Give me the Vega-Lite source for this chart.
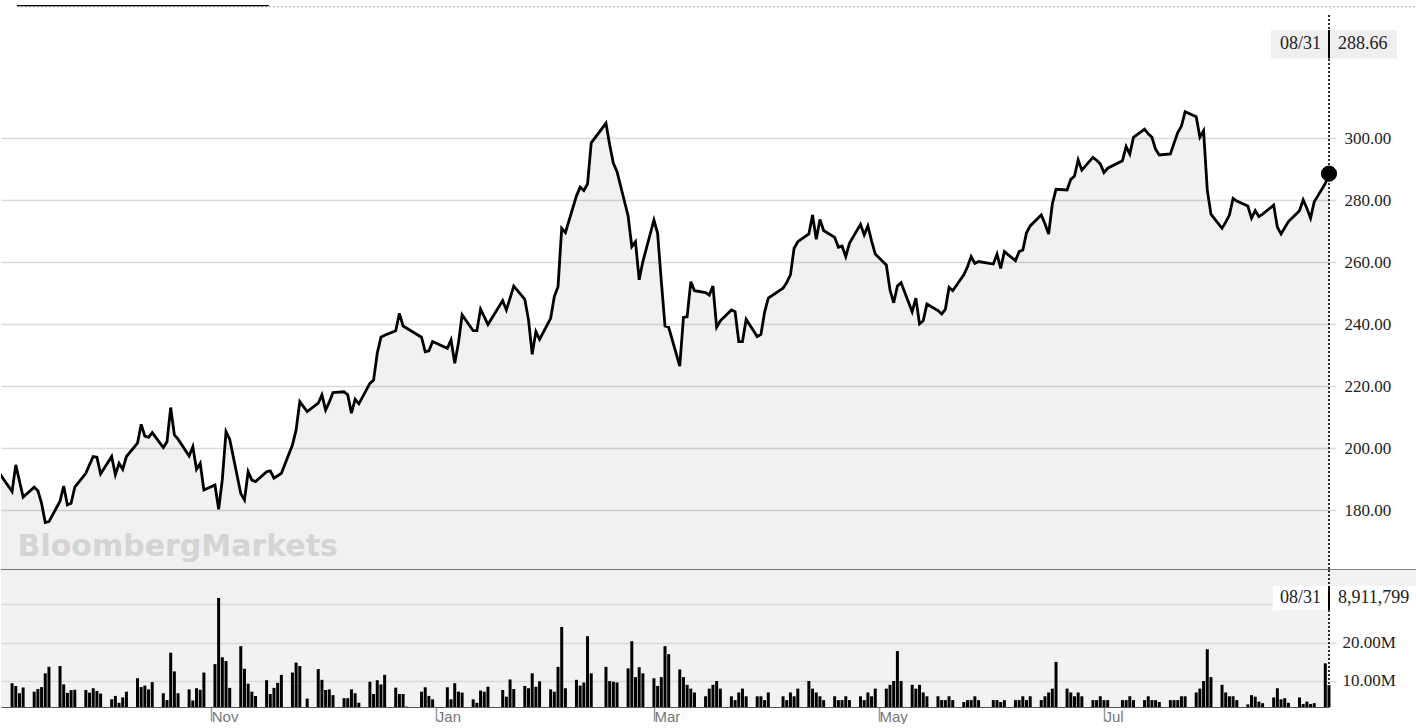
{
  "$schema": "https://vega.github.io/schema/vega-lite/v6.json",
  "padding": {"left": 0, "top": 5, "right": 0, "bottom": 0},
  "spacing": 0,
  "bounds": "flush",
  "background": "#ffffff",
  "config": {"view": {"stroke": null}},
  "datasets": {
    "px": [
      {"date":"2020-09-04","price":193.0},{"date":"2020-09-08","price":186.1},{"date":"2020-09-09","price":194.7},{"date":"2020-09-10","price":189.5},{"date":"2020-09-11","price":184.3},
      {"date":"2020-09-14","price":187.5},{"date":"2020-09-15","price":186.4},{"date":"2020-09-16","price":182.3},{"date":"2020-09-17","price":176.1},{"date":"2020-09-18","price":176.4},
      {"date":"2020-09-21","price":183.0},{"date":"2020-09-22","price":187.9},{"date":"2020-09-23","price":181.8},{"date":"2020-09-24","price":182.3},{"date":"2020-09-25","price":187.5},
      {"date":"2020-09-28","price":192.0},{"date":"2020-09-29","price":194.8},{"date":"2020-09-30","price":197.4},{"date":"2020-10-01","price":197.2},{"date":"2020-10-02","price":191.8},
      {"date":"2020-10-05","price":197.4},{"date":"2020-10-06","price":191.5},{"date":"2020-10-07","price":195.2},{"date":"2020-10-08","price":193.3},{"date":"2020-10-09","price":197.4},
      {"date":"2020-10-12","price":201.7},{"date":"2020-10-13","price":207.8},{"date":"2020-10-14","price":204.0},{"date":"2020-10-15","price":203.6},{"date":"2020-10-16","price":205.1},
      {"date":"2020-10-19","price":200.3},{"date":"2020-10-20","price":202.2},{"date":"2020-10-21","price":213.2},{"date":"2020-10-22","price":204.4},{"date":"2020-10-23","price":203.0},
      {"date":"2020-10-26","price":197.6},{"date":"2020-10-27","price":200.6},{"date":"2020-10-28","price":193.3},{"date":"2020-10-29","price":195.2},{"date":"2020-10-30","price":186.6},
      {"date":"2020-11-02","price":188.2},{"date":"2020-11-03","price":180.4},{"date":"2020-11-04","price":190.0},{"date":"2020-11-05","price":205.4},{"date":"2020-11-06","price":203.0},
      {"date":"2020-11-09","price":185.5},{"date":"2020-11-10","price":183.4},{"date":"2020-11-11","price":192.5},{"date":"2020-11-12","price":189.8},{"date":"2020-11-13","price":189.3},
      {"date":"2020-11-16","price":192.5},{"date":"2020-11-17","price":192.8},{"date":"2020-11-18","price":190.4},{"date":"2020-11-19","price":191.2},{"date":"2020-11-20","price":192.0},
      {"date":"2020-11-23","price":201.1},{"date":"2020-11-24","price":206.0},{"date":"2020-11-25","price":215.1},{"date":"2020-11-27","price":211.9},
      {"date":"2020-11-30","price":214.6},{"date":"2020-12-01","price":217.3},{"date":"2020-12-02","price":212.4},{"date":"2020-12-03","price":215.0},{"date":"2020-12-04","price":218.0},
      {"date":"2020-12-07","price":218.3},{"date":"2020-12-08","price":217.3},{"date":"2020-12-09","price":211.4},{"date":"2020-12-10","price":215.9},{"date":"2020-12-11","price":214.4},
      {"date":"2020-12-14","price":221.0},{"date":"2020-12-15","price":222.1},{"date":"2020-12-16","price":230.7},{"date":"2020-12-17","price":235.9},{"date":"2020-12-18","price":236.5},
      {"date":"2020-12-21","price":238.0},{"date":"2020-12-22","price":243.6},{"date":"2020-12-23","price":239.5},{"date":"2020-12-24","price":238.8},
      {"date":"2020-12-28","price":235.9},{"date":"2020-12-29","price":231.2},{"date":"2020-12-30","price":231.5},{"date":"2020-12-31","price":234.5},
      {"date":"2021-01-04","price":232.3},{"date":"2021-01-05","price":235.0},{"date":"2021-01-06","price":227.5},{"date":"2021-01-07","price":234.0},{"date":"2021-01-08","price":243.1},
      {"date":"2021-01-11","price":238.0},{"date":"2021-01-12","price":238.0},{"date":"2021-01-13","price":244.9},{"date":"2021-01-14","price":242.5},{"date":"2021-01-15","price":240.0},
      {"date":"2021-01-19","price":247.7},{"date":"2021-01-20","price":244.7},{"date":"2021-01-21","price":248.5},{"date":"2021-01-22","price":252.4},
      {"date":"2021-01-25","price":248.1},{"date":"2021-01-26","price":241.5},{"date":"2021-01-27","price":230.4},{"date":"2021-01-28","price":237.7},{"date":"2021-01-29","price":235.2},
      {"date":"2021-02-01","price":242.0},{"date":"2021-02-02","price":249.0},{"date":"2021-02-03","price":252.2},{"date":"2021-02-04","price":271.0},{"date":"2021-02-05","price":269.6},
      {"date":"2021-02-08","price":281.5},{"date":"2021-02-09","price":284.3},{"date":"2021-02-10","price":283.2},{"date":"2021-02-11","price":285.3},{"date":"2021-02-12","price":298.6},
      {"date":"2021-02-16","price":304.9},{"date":"2021-02-17","price":298.0},{"date":"2021-02-18","price":292.0},{"date":"2021-02-19","price":289.3},
      {"date":"2021-02-22","price":275.0},{"date":"2021-02-23","price":265.1},{"date":"2021-02-24","price":266.7},{"date":"2021-02-25","price":254.4},{"date":"2021-02-26","price":260.3},
      {"date":"2021-03-01","price":273.7},{"date":"2021-03-02","price":269.4},{"date":"2021-03-03","price":254.0},{"date":"2021-03-04","price":239.5},{"date":"2021-03-05","price":239.1},
      {"date":"2021-03-08","price":226.6},{"date":"2021-03-09","price":242.3},{"date":"2021-03-10","price":242.5},{"date":"2021-03-11","price":253.8},{"date":"2021-03-12","price":250.9},
      {"date":"2021-03-15","price":250.3},{"date":"2021-03-16","price":249.5},{"date":"2021-03-17","price":252.4},{"date":"2021-03-18","price":239.1},{"date":"2021-03-19","price":241.2},
      {"date":"2021-03-22","price":244.7},{"date":"2021-03-23","price":244.1},{"date":"2021-03-24","price":234.5},{"date":"2021-03-25","price":234.5},{"date":"2021-03-26","price":241.7},
      {"date":"2021-03-29","price":236.1},{"date":"2021-03-30","price":236.8},{"date":"2021-03-31","price":244.0},{"date":"2021-04-01","price":248.5},
      {"date":"2021-04-05","price":251.7},{"date":"2021-04-06","price":253.5},{"date":"2021-04-07","price":256.0},{"date":"2021-04-08","price":264.6},{"date":"2021-04-09","price":266.7},
      {"date":"2021-04-12","price":269.2},{"date":"2021-04-13","price":275.3},{"date":"2021-04-14","price":267.5},{"date":"2021-04-15","price":273.9},{"date":"2021-04-16","price":270.3},
      {"date":"2021-04-19","price":268.1},{"date":"2021-04-20","price":264.9},{"date":"2021-04-21","price":265.3},{"date":"2021-04-22","price":261.9},{"date":"2021-04-23","price":266.2},
      {"date":"2021-04-26","price":272.3},{"date":"2021-04-27","price":268.9},{"date":"2021-04-28","price":271.8},{"date":"2021-04-29","price":267.0},{"date":"2021-04-30","price":262.7},
      {"date":"2021-05-03","price":259.2},{"date":"2021-05-04","price":251.1},{"date":"2021-05-05","price":247.0},{"date":"2021-05-06","price":252.4},{"date":"2021-05-07","price":253.5},
      {"date":"2021-05-10","price":244.1},{"date":"2021-05-11","price":248.5},{"date":"2021-05-12","price":240.2},{"date":"2021-05-13","price":241.2},{"date":"2021-05-14","price":246.6},
      {"date":"2021-05-17","price":244.5},{"date":"2021-05-18","price":243.4},{"date":"2021-05-19","price":244.9},{"date":"2021-05-20","price":252.0},{"date":"2021-05-21","price":250.9},
      {"date":"2021-05-24","price":256.0},{"date":"2021-05-25","price":258.6},{"date":"2021-05-26","price":261.9},{"date":"2021-05-27","price":259.7},{"date":"2021-05-28","price":260.3},
      {"date":"2021-06-01","price":259.5},{"date":"2021-06-02","price":262.7},{"date":"2021-06-03","price":258.1},{"date":"2021-06-04","price":263.5},
      {"date":"2021-06-07","price":260.6},{"date":"2021-06-08","price":263.5},{"date":"2021-06-09","price":264.0},{"date":"2021-06-10","price":269.6},{"date":"2021-06-11","price":271.8},
      {"date":"2021-06-14","price":275.3},{"date":"2021-06-15","price":272.5},{"date":"2021-06-16","price":269.2},{"date":"2021-06-17","price":278.9},{"date":"2021-06-18","price":283.6},
      {"date":"2021-06-21","price":283.4},{"date":"2021-06-22","price":286.8},{"date":"2021-06-23","price":287.9},{"date":"2021-06-24","price":293.1},{"date":"2021-06-25","price":289.8},
      {"date":"2021-06-28","price":293.9},{"date":"2021-06-29","price":293.0},{"date":"2021-06-30","price":291.8},{"date":"2021-07-01","price":289.0},{"date":"2021-07-02","price":290.4},
      {"date":"2021-07-06","price":292.8},{"date":"2021-07-07","price":297.4},{"date":"2021-07-08","price":295.0},{"date":"2021-07-09","price":300.4},
      {"date":"2021-07-12","price":303.0},{"date":"2021-07-13","price":301.5},{"date":"2021-07-14","price":300.4},{"date":"2021-07-15","price":296.5},{"date":"2021-07-16","price":294.7},
      {"date":"2021-07-19","price":295.0},{"date":"2021-07-20","price":298.5},{"date":"2021-07-21","price":301.9},{"date":"2021-07-22","price":304.0},{"date":"2021-07-23","price":308.6},
      {"date":"2021-07-26","price":307.0},{"date":"2021-07-27","price":300.4},{"date":"2021-07-28","price":302.5},{"date":"2021-07-29","price":283.4},{"date":"2021-07-30","price":275.6},
      {"date":"2021-08-02","price":271.0},{"date":"2021-08-03","price":273.0},{"date":"2021-08-04","price":275.3},{"date":"2021-08-05","price":280.7},{"date":"2021-08-06","price":279.8},
      {"date":"2021-08-09","price":278.2},{"date":"2021-08-10","price":274.3},{"date":"2021-08-11","price":276.7},{"date":"2021-08-12","price":274.8},{"date":"2021-08-13","price":275.6},
      {"date":"2021-08-16","price":278.5},{"date":"2021-08-17","price":271.4},{"date":"2021-08-18","price":269.2},{"date":"2021-08-19","price":271.2},{"date":"2021-08-20","price":273.2},
      {"date":"2021-08-23","price":276.7},{"date":"2021-08-24","price":280.2},{"date":"2021-08-25","price":277.5},{"date":"2021-08-26","price":274.3},{"date":"2021-08-27","price":279.6},
      {"date":"2021-08-30","price":285.5},{"date":"2021-08-31","price":288.66}
    ],
    "vol": [
      {"date":"2020-09-08","v":9.4},{"date":"2020-09-09","v":8.7},{"date":"2020-09-10","v":6.8},{"date":"2020-09-11","v":8.3},
      {"date":"2020-09-14","v":7.2},{"date":"2020-09-15","v":7.9},{"date":"2020-09-16","v":8.4},{"date":"2020-09-17","v":12.0},{"date":"2020-09-18","v":13.7},
      {"date":"2020-09-21","v":13.9},{"date":"2020-09-22","v":9.1},{"date":"2020-09-23","v":6.9},{"date":"2020-09-24","v":7.6},{"date":"2020-09-25","v":7.7},
      {"date":"2020-09-28","v":7.65},{"date":"2020-09-29","v":6.95},{"date":"2020-09-30","v":8.1},{"date":"2020-10-01","v":7.4},{"date":"2020-10-02","v":6.7},
      {"date":"2020-10-05","v":5.2},{"date":"2020-10-06","v":6.1},{"date":"2020-10-07","v":4.3},{"date":"2020-10-08","v":5.7},{"date":"2020-10-09","v":7.2},
      {"date":"2020-10-12","v":10.7},{"date":"2020-10-13","v":8.4},{"date":"2020-10-14","v":8.8},{"date":"2020-10-15","v":7.8},{"date":"2020-10-16","v":9.7},
      {"date":"2020-10-19","v":6.8},{"date":"2020-10-20","v":5.0},{"date":"2020-10-21","v":17.4},{"date":"2020-10-22","v":12.5},{"date":"2020-10-23","v":6.8},
      {"date":"2020-10-26","v":7.8},{"date":"2020-10-27","v":4.9},{"date":"2020-10-28","v":8.1},{"date":"2020-10-29","v":7.7},{"date":"2020-10-30","v":12.2},
      {"date":"2020-11-02","v":14.4},{"date":"2020-11-03","v":31.7},{"date":"2020-11-04","v":16.2},{"date":"2020-11-05","v":15.2},{"date":"2020-11-06","v":8.2},
      {"date":"2020-11-09","v":19.1},{"date":"2020-11-10","v":13.2},{"date":"2020-11-11","v":9.3},{"date":"2020-11-12","v":7.2},{"date":"2020-11-13","v":6.1},
      {"date":"2020-11-16","v":10.2},{"date":"2020-11-17","v":6.6},{"date":"2020-11-18","v":8.2},{"date":"2020-11-19","v":9.5},{"date":"2020-11-20","v":11.6},
      {"date":"2020-11-23","v":12.2},{"date":"2020-11-24","v":14.8},{"date":"2020-11-25","v":13.9},{"date":"2020-11-27","v":5.4},
      {"date":"2020-11-30","v":13.1},{"date":"2020-12-01","v":10.3},{"date":"2020-12-02","v":7.65},{"date":"2020-12-03","v":7.8},{"date":"2020-12-04","v":6.3},
      {"date":"2020-12-07","v":5.5},{"date":"2020-12-08","v":5.5},{"date":"2020-12-09","v":7.8},{"date":"2020-12-10","v":6.8},{"date":"2020-12-11","v":4.3},
      {"date":"2020-12-14","v":9.8},{"date":"2020-12-15","v":6.6},{"date":"2020-12-16","v":10.2},{"date":"2020-12-17","v":9.1},{"date":"2020-12-18","v":11.6},
      {"date":"2020-12-21","v":8.25},{"date":"2020-12-22","v":6.6},{"date":"2020-12-23","v":6.6},{"date":"2020-12-24","v":3.3},
      {"date":"2020-12-28","v":7.2},{"date":"2020-12-29","v":8.35},{"date":"2020-12-30","v":6.1},{"date":"2020-12-31","v":5.2},
      {"date":"2021-01-04","v":8.35},{"date":"2021-01-05","v":5.2},{"date":"2021-01-06","v":9.4},{"date":"2021-01-07","v":7.2},{"date":"2021-01-08","v":6.95},
      {"date":"2021-01-11","v":5.2},{"date":"2021-01-12","v":4.3},{"date":"2021-01-13","v":7.5},{"date":"2021-01-14","v":7.2},{"date":"2021-01-15","v":8.5},
      {"date":"2021-01-19","v":7.65},{"date":"2021-01-20","v":5.9},{"date":"2021-01-21","v":10.4},{"date":"2021-01-22","v":7.9},
      {"date":"2021-01-25","v":8.7},{"date":"2021-01-26","v":8.1},{"date":"2021-01-27","v":12.0},{"date":"2021-01-28","v":8.5},{"date":"2021-01-29","v":9.9},
      {"date":"2021-02-01","v":7.8},{"date":"2021-02-02","v":7.2},{"date":"2021-02-03","v":13.7},{"date":"2021-02-04","v":24.1},{"date":"2021-02-05","v":8.1},
      {"date":"2021-02-08","v":10.3},{"date":"2021-02-09","v":8.8},{"date":"2021-02-10","v":9.6},{"date":"2021-02-11","v":21.7},{"date":"2021-02-12","v":12.0},
      {"date":"2021-02-16","v":13.7},{"date":"2021-02-17","v":10.0},{"date":"2021-02-18","v":9.8},{"date":"2021-02-19","v":9.6},
      {"date":"2021-02-22","v":13.3},{"date":"2021-02-23","v":20.4},{"date":"2021-02-24","v":11.0},{"date":"2021-02-25","v":13.6},{"date":"2021-02-26","v":12.0},
      {"date":"2021-03-01","v":10.7},{"date":"2021-03-02","v":8.7},{"date":"2021-03-03","v":11.0},{"date":"2021-03-04","v":19.1},{"date":"2021-03-05","v":17.0},
      {"date":"2021-03-08","v":13.0},{"date":"2021-03-09","v":11.0},{"date":"2021-03-10","v":9.0},{"date":"2021-03-11","v":8.0},{"date":"2021-03-12","v":7.0},
      {"date":"2021-03-15","v":6.0},{"date":"2021-03-16","v":8.0},{"date":"2021-03-17","v":9.0},{"date":"2021-03-18","v":10.0},{"date":"2021-03-19","v":8.0},
      {"date":"2021-03-22","v":6.0},{"date":"2021-03-23","v":5.0},{"date":"2021-03-24","v":7.0},{"date":"2021-03-25","v":8.0},{"date":"2021-03-26","v":6.0},
      {"date":"2021-03-29","v":6.0},{"date":"2021-03-30","v":6.0},{"date":"2021-03-31","v":5.0},{"date":"2021-04-01","v":7.0},
      {"date":"2021-04-05","v":6.0},{"date":"2021-04-06","v":5.0},{"date":"2021-04-07","v":7.0},{"date":"2021-04-08","v":6.0},{"date":"2021-04-09","v":8.0},
      {"date":"2021-04-12","v":10.0},{"date":"2021-04-13","v":8.0},{"date":"2021-04-14","v":7.0},{"date":"2021-04-15","v":6.0},{"date":"2021-04-16","v":5.0},
      {"date":"2021-04-19","v":6.0},{"date":"2021-04-20","v":5.0},{"date":"2021-04-21","v":5.0},{"date":"2021-04-22","v":6.0},{"date":"2021-04-23","v":5.0},
      {"date":"2021-04-26","v":6.0},{"date":"2021-04-27","v":5.0},{"date":"2021-04-28","v":7.0},{"date":"2021-04-29","v":6.0},{"date":"2021-04-30","v":8.0},
      {"date":"2021-05-03","v":8.0},{"date":"2021-05-04","v":9.0},{"date":"2021-05-05","v":10.0},{"date":"2021-05-06","v":17.8},{"date":"2021-05-07","v":10.0},
      {"date":"2021-05-10","v":9.0},{"date":"2021-05-11","v":8.0},{"date":"2021-05-12","v":9.0},{"date":"2021-05-13","v":7.0},{"date":"2021-05-14","v":6.0},
      {"date":"2021-05-17","v":6.0},{"date":"2021-05-18","v":5.0},{"date":"2021-05-19","v":5.0},{"date":"2021-05-20","v":6.0},{"date":"2021-05-21","v":5.0},
      {"date":"2021-05-24","v":4.5},{"date":"2021-05-25","v":5.0},{"date":"2021-05-26","v":5.0},{"date":"2021-05-27","v":6.0},{"date":"2021-05-28","v":5.0},
      {"date":"2021-06-01","v":5.0},{"date":"2021-06-02","v":5.0},{"date":"2021-06-03","v":4.5},{"date":"2021-06-04","v":5.0},
      {"date":"2021-06-07","v":5.0},{"date":"2021-06-08","v":5.0},{"date":"2021-06-09","v":6.0},{"date":"2021-06-10","v":5.0},{"date":"2021-06-11","v":6.0},
      {"date":"2021-06-14","v":5.0},{"date":"2021-06-15","v":6.0},{"date":"2021-06-16","v":7.0},{"date":"2021-06-17","v":8.0},{"date":"2021-06-18","v":15.0},
      {"date":"2021-06-21","v":8.0},{"date":"2021-06-22","v":7.0},{"date":"2021-06-23","v":6.0},{"date":"2021-06-24","v":7.0},{"date":"2021-06-25","v":6.0},
      {"date":"2021-06-28","v":5.0},{"date":"2021-06-29","v":5.0},{"date":"2021-06-30","v":6.0},{"date":"2021-07-01","v":5.0},{"date":"2021-07-02","v":5.0},
      {"date":"2021-07-06","v":5.0},{"date":"2021-07-07","v":5.0},{"date":"2021-07-08","v":6.0},{"date":"2021-07-09","v":5.0},
      {"date":"2021-07-12","v":5.0},{"date":"2021-07-13","v":6.0},{"date":"2021-07-14","v":5.0},{"date":"2021-07-15","v":5.0},{"date":"2021-07-16","v":4.5},
      {"date":"2021-07-19","v":5.0},{"date":"2021-07-20","v":5.0},{"date":"2021-07-21","v":5.0},{"date":"2021-07-22","v":6.0},{"date":"2021-07-23","v":6.0},
      {"date":"2021-07-26","v":7.0},{"date":"2021-07-27","v":8.0},{"date":"2021-07-28","v":10.0},{"date":"2021-07-29","v":18.3},{"date":"2021-07-30","v":11.0},
      {"date":"2021-08-02","v":9.0},{"date":"2021-08-03","v":7.0},{"date":"2021-08-04","v":6.0},{"date":"2021-08-05","v":6.0},{"date":"2021-08-06","v":5.0},
      {"date":"2021-08-09","v":3.9},{"date":"2021-08-10","v":6.3},{"date":"2021-08-11","v":5.9},{"date":"2021-08-12","v":4.6},{"date":"2021-08-13","v":4.2},
      {"date":"2021-08-16","v":5.7},{"date":"2021-08-17","v":8.1},{"date":"2021-08-18","v":5.2},{"date":"2021-08-19","v":5.5},{"date":"2021-08-20","v":4.3},
      {"date":"2021-08-23","v":5.7},{"date":"2021-08-24","v":4.0},{"date":"2021-08-25","v":4.6},{"date":"2021-08-26","v":4.0},{"date":"2021-08-27","v":4.2},
      {"date":"2021-08-30","v":14.6},{"date":"2021-08-31","v":8.911799}
    ]
  },
  "vconcat": [
    {
      "width": 1328,
      "height": 565,
      "data": {"name": "px"},
      "layer": [
        {
          "mark": {"type": "area", "fill": "#000000", "fillOpacity": 0.055, "clip": true},
          "encoding": {
            "x": {"field": "date", "type": "temporal", "axis": null,
                  "scale": {"type": "utc", "domain": [{"year": 2020, "month": 9, "date": 5, "utc": true}, {"year": 2021, "month": 8, "date": 31, "utc": true}]}},
            "y": {"field": "price", "type": "quantitative",
                  "scale": {"domain": [160.8, 343.06], "zero": false, "nice": false},
                  "axis": {"orient": "right", "title": null, "values": [180, 200, 220, 240, 260, 280, 300], "format": ".2f",
                           "grid": true, "gridColor": "#dadada", "gridWidth": 1.5, "domain": false,
                           "tickColor": "#dadada", "tickWidth": 1.5, "tickSize": 7, "labelPadding": 8,
                           "labelFont": "Liberation Serif", "labelFontSize": 17, "labelColor": "#222222"}},
            "y2": {"datum": 160.8}
          }
        },
        {
          "mark": {"type": "line", "stroke": "#000000", "strokeWidth": 2.8, "clip": true},
          "encoding": {
            "x": {"field": "date", "type": "temporal", "axis": null},
            "y": {"field": "price", "type": "quantitative"}
          }
        },
        {
          "data": {"values": [{}]},
          "mark": {"type": "text", "text": "BloombergMarkets", "font": "DejaVu Sans", "fontWeight": "bold", "fontSize": 30, "fill": "#d4d4d4", "align": "left", "baseline": "alphabetic"},
          "encoding": {
            "x": {"datum": {"year": 2020, "month": 9, "date": 9, "hours": 12, "utc": true}, "type": "temporal", "axis": null},
            "y": {"datum": 165.3}
          }
        },
        {
          "data": {"values": [{}]},
          "mark": {"type": "rule", "stroke": "#000000", "strokeWidth": 1.6, "strokeDash": [2, 2], "clip": false},
          "encoding": {
            "x": {"datum": {"year": 2021, "month": 8, "date": 31, "utc": true}, "type": "temporal", "axis": null},
            "y": {"datum": 339.8},
            "y2": {"datum": 160.8}
          }
        },
        {
          "data": {"values": [{}]},
          "mark": {"type": "rule", "stroke": "#000000", "strokeWidth": 1.2, "clip": false},
          "encoding": {
            "x": {"datum": {"year": 2020, "month": 9, "date": 5, "utc": true}, "type": "temporal", "axis": null},
            "x2": {"datum": {"year": 2021, "month": 9, "date": 30, "utc": true}},
            "y": {"datum": 160.8}
          }
        },
        {
          "data": {"values": [{}]},
          "mark": {"type": "rule", "stroke": "#aaaaaa", "strokeWidth": 1, "strokeDash": [2, 2], "clip": false},
          "encoding": {
            "x": {"datum": {"year": 2020, "month": 9, "date": 9, "hours": 8, "utc": true}, "type": "temporal", "axis": null},
            "x2": {"datum": {"year": 2021, "month": 9, "date": 30, "utc": true}},
            "y": {"datum": 342.5}
          }
        },
        {
          "data": {"values": [{}]},
          "mark": {"type": "rule", "stroke": "#000000", "strokeWidth": 1.2, "clip": false},
          "encoding": {
            "x": {"datum": {"year": 2020, "month": 9, "date": 9, "hours": 8, "utc": true}, "type": "temporal", "axis": null},
            "x2": {"datum": {"year": 2020, "month": 11, "date": 16, "hours": 15, "utc": true}},
            "y": {"datum": 342.85}
          }
        },
        {
          "data": {"values": [{}]},
          "mark": {"type": "rect", "fill": "#efefef", "clip": false},
          "encoding": {
            "x": {"datum": {"year": 2021, "month": 8, "date": 15, "hours": 6, "utc": true}, "type": "temporal", "axis": null},
            "x2": {"datum": {"year": 2021, "month": 9, "date": 18, "hours": 10, "utc": true}},
            "y": {"datum": 335.0},
            "y2": {"datum": 325.8}
          }
        },
        {
          "data": {"values": [{}]},
          "mark": {"type": "rule", "stroke": "#000000", "strokeWidth": 2, "clip": false},
          "encoding": {
            "x": {"datum": {"year": 2021, "month": 8, "date": 31, "utc": true}, "type": "temporal", "axis": null},
            "y": {"datum": 335.0},
            "y2": {"datum": 325.8}
          }
        },
        {
          "data": {"values": [{"label": "08/31"}]},
          "mark": {"type": "text", "font": "Liberation Serif", "fontSize": 18, "fill": "#222222", "align": "right", "baseline": "middle", "dx": -8},
          "encoding": {
            "x": {"datum": {"year": 2021, "month": 8, "date": 31, "utc": true}, "type": "temporal", "axis": null},
            "y": {"datum": 330.4},
            "text": {"field": "label"}
          }
        },
        {
          "data": {"values": [{"label": "288.66"}]},
          "mark": {"type": "text", "font": "Liberation Serif", "fontSize": 18, "fill": "#222222", "align": "left", "baseline": "middle", "dx": 9},
          "encoding": {
            "x": {"datum": {"year": 2021, "month": 8, "date": 31, "utc": true}, "type": "temporal", "axis": null},
            "y": {"datum": 330.4},
            "text": {"field": "label"}
          }
        },
        {
          "transform": [{"filter": "datum.price == 288.66"}],
          "mark": {"type": "point", "shape": "circle", "filled": true, "fill": "#000000", "stroke": "#000000", "strokeWidth": 1, "size": 230, "opacity": 1, "clip": false},
          "encoding": {
            "x": {"field": "date", "type": "temporal", "axis": null},
            "y": {"field": "price", "type": "quantitative"}
          }
        }
      ]
    },
    {
      "width": 1328,
      "height": 137,
      "view": {"fill": "#f2f2f2", "stroke": null},
      "data": {"name": "vol"},
      "layer": [
        {
          "mark": {"type": "bar", "fill": "#000000", "width": 3, "clip": false},
          "encoding": {
            "x": {"field": "date", "type": "temporal",
                  "scale": {"type": "utc", "padding": 0, "domain": [{"year": 2020, "month": 9, "date": 5, "utc": true}, {"year": 2021, "month": 8, "date": 31, "utc": true}]},
                  "axis": {"title": null, "values": [{"year": 2020, "month": 11, "date": 1, "utc": true}, {"year": 2021, "month": 1, "date": 1, "utc": true}, {"year": 2021, "month": 3, "date": 1, "utc": true}, {"year": 2021, "month": 5, "date": 1, "utc": true}, {"year": 2021, "month": 7, "date": 1, "utc": true}],
                           "format": "%b", "grid": false, "labelAlign": "left", "labelDx": 4, "labelPadding": -12, "labelFlush": false,
                           "tickSize": 14, "tickColor": "#999999", "tickWidth": 1.5, "domainColor": "#555555", "domainWidth": 1.2,
                           "labelFont": "Liberation Sans", "labelFontSize": 15, "labelColor": "#777777"}},
            "y": {"field": "v", "type": "quantitative",
                  "scale": {"domain": [3.2, 39.0], "zero": false, "nice": false},
                  "axis": {"orient": "right", "title": null, "values": [10, 20, 30],
                           "labelExpr": "datum.value == 30 ? '' : format(datum.value, '.2f') + 'M'",
                           "grid": true, "gridColor": "#d9d9d9", "gridWidth": 1.5, "domain": false,
                           "tickColor": "#d9d9d9", "tickWidth": 1.5, "tickSize": 7, "labelPadding": 6,
                           "labelFont": "Liberation Serif", "labelFontSize": 17, "labelColor": "#222222"}},
            "y2": {"datum": 3.2}
          }
        },
        {
          "data": {"values": [{}]},
          "mark": {"type": "rect", "fill": "#f2f2f2", "clip": false},
          "encoding": {
            "x": {"datum": {"year": 2021, "month": 8, "date": 31, "utc": true}, "type": "temporal"},
            "x2": {"datum": {"year": 2021, "month": 9, "date": 30, "utc": true}},
            "y": {"datum": 39.0},
            "y2": {"datum": 34.8}
          }
        },
        {
          "data": {"values": [{}]},
          "mark": {"type": "rule", "stroke": "#000000", "strokeWidth": 1.6, "strokeDash": [2, 2], "clip": false},
          "encoding": {
            "x": {"datum": {"year": 2021, "month": 8, "date": 31, "utc": true}, "type": "temporal"},
            "y": {"datum": 39.0},
            "y2": {"datum": 3.2}
          }
        },
        {
          "data": {"values": [{}]},
          "mark": {"type": "rect", "fill": "#ffffff", "clip": false},
          "encoding": {
            "x": {"datum": {"year": 2021, "month": 8, "date": 15, "hours": 19, "utc": true}, "type": "temporal"},
            "x2": {"datum": {"year": 2021, "month": 9, "date": 30, "utc": true}},
            "y": {"datum": 34.8},
            "y2": {"datum": 28.5}
          }
        },
        {
          "data": {"values": [{}]},
          "mark": {"type": "rule", "stroke": "#000000", "strokeWidth": 2, "clip": false},
          "encoding": {
            "x": {"datum": {"year": 2021, "month": 8, "date": 31, "utc": true}, "type": "temporal"},
            "y": {"datum": 34.8},
            "y2": {"datum": 28.5}
          }
        },
        {
          "data": {"values": [{"label": "08/31"}]},
          "mark": {"type": "text", "font": "Liberation Serif", "fontSize": 18, "fill": "#222222", "align": "right", "baseline": "middle", "dx": -8},
          "encoding": {
            "x": {"datum": {"year": 2021, "month": 8, "date": 31, "utc": true}, "type": "temporal"},
            "y": {"datum": 31.65},
            "text": {"field": "label"}
          }
        },
        {
          "data": {"values": [{"label": "8,911,799"}]},
          "mark": {"type": "text", "font": "Liberation Serif", "fontSize": 18, "fill": "#222222", "align": "left", "baseline": "middle", "dx": 9},
          "encoding": {
            "x": {"datum": {"year": 2021, "month": 8, "date": 31, "utc": true}, "type": "temporal"},
            "y": {"datum": 31.65},
            "text": {"field": "label"}
          }
        }
      ]
    }
  ]
}
